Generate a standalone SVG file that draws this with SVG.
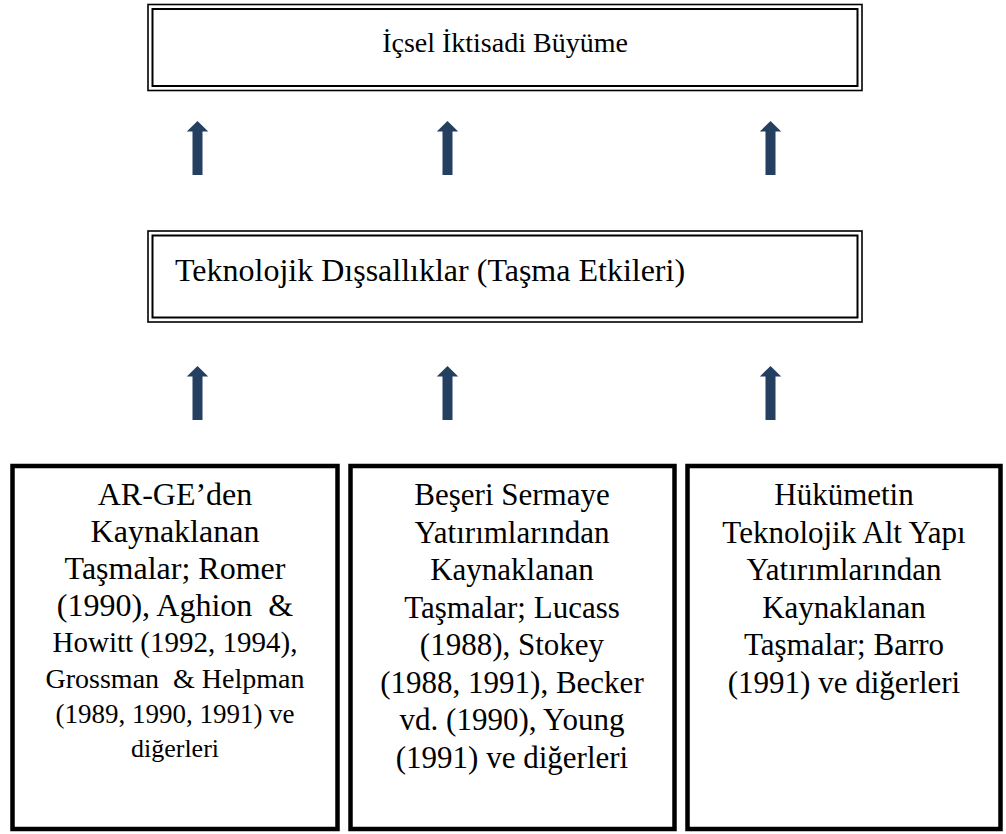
<svg xmlns="http://www.w3.org/2000/svg" width="1006" height="834" viewBox="0 0 1006 834">
<defs>
<style>
.t{font-family:"Liberation Serif","Times New Roman",serif;fill:#000;white-space:pre;}
.c{text-anchor:middle;}
.dbl-o{fill:none;stroke:#000;stroke-width:1.6;}
.dbl-i{fill:none;stroke:#000;stroke-width:2;}
.thick{fill:#fff;stroke:#000;stroke-width:4.5;}
.arr{fill:#243F60;}
</style>
<path id="up" d="M0,0 L10.7,10.5 L5,10.5 L5,54 L-5,54 L-5,10.5 L-10.7,10.5 Z"/>
</defs>
<rect width="1006" height="834" fill="#fff"/>

<g id="node-icsel">
<rect class="dbl-o" x="148" y="4.5" width="714" height="86"/>
<rect class="dbl-i" x="152.5" y="9" width="705" height="77"/>
<text class="t c" x="505" y="52" font-size="28">İçsel İktisadi Büyüme</text>
</g>

<g id="node-teknolojik">
<rect class="dbl-o" x="148" y="231" width="714" height="91"/>
<rect class="dbl-i" x="152.5" y="235.5" width="705" height="82"/>
<text class="t" x="175" y="281" font-size="32">Teknolojik Dışsallıklar (Taşma Etkileri)</text>
</g>

<g id="connectors">
<use href="#up" class="arr" x="197.5" y="121"/>
<use href="#up" class="arr" x="447.5" y="121"/>
<use href="#up" class="arr" x="770.5" y="121"/>
<use href="#up" class="arr" x="197.5" y="366"/>
<use href="#up" class="arr" x="447.5" y="366"/>
<use href="#up" class="arr" x="770.5" y="366"/>
</g>

<g id="node-arge">
<rect class="thick" x="12.5" y="466" width="325" height="363"/>
<text class="t c" x="175" y="505" font-size="32">AR-GE’den</text>
<text class="t c" x="175" y="542" font-size="32">Kaynaklanan</text>
<text class="t c" x="175" y="579" font-size="32">Taşmalar; Romer</text>
<text class="t c" x="175" y="616" font-size="32">(1990), Aghion  &amp;</text>
<text class="t c" x="175" y="652" font-size="29">Howitt (1992, 1994),</text>
<text class="t c" x="175" y="688" font-size="28">Grossman  &amp; Helpman</text>
<text class="t c" x="175" y="723" font-size="27">(1989, 1990, 1991) ve</text>
<text class="t c" x="175" y="757" font-size="26">diğerleri</text>
</g>

<g id="node-beseri">
<rect class="thick" x="350.5" y="466" width="324" height="363"/>
<text class="t c" x="512" y="505" font-size="31">Beşeri Sermaye</text>
<text class="t c" x="512" y="542.5" font-size="31">Yatırımlarından</text>
<text class="t c" x="512" y="580" font-size="31">Kaynaklanan</text>
<text class="t c" x="512" y="617.5" font-size="31">Taşmalar; Lucass</text>
<text class="t c" x="512" y="655" font-size="31">(1988), Stokey</text>
<text class="t c" x="512" y="692.5" font-size="31">(1988, 1991), Becker</text>
<text class="t c" x="512" y="730" font-size="31">vd. (1990), Young</text>
<text class="t c" x="512" y="767.5" font-size="31">(1991) ve diğerleri</text>
</g>

<g id="node-hukumet">
<rect class="thick" x="687.5" y="466" width="313" height="363"/>
<text class="t c" x="844" y="505" font-size="31">Hükümetin</text>
<text class="t c" x="844" y="542.5" font-size="31">Teknolojik Alt Yapı</text>
<text class="t c" x="844" y="580" font-size="31">Yatırımlarından</text>
<text class="t c" x="844" y="617.5" font-size="31">Kaynaklanan</text>
<text class="t c" x="844" y="655" font-size="31">Taşmalar; Barro</text>
<text class="t c" x="844" y="692.5" font-size="31">(1991) ve diğerleri</text>
</g>
</svg>
